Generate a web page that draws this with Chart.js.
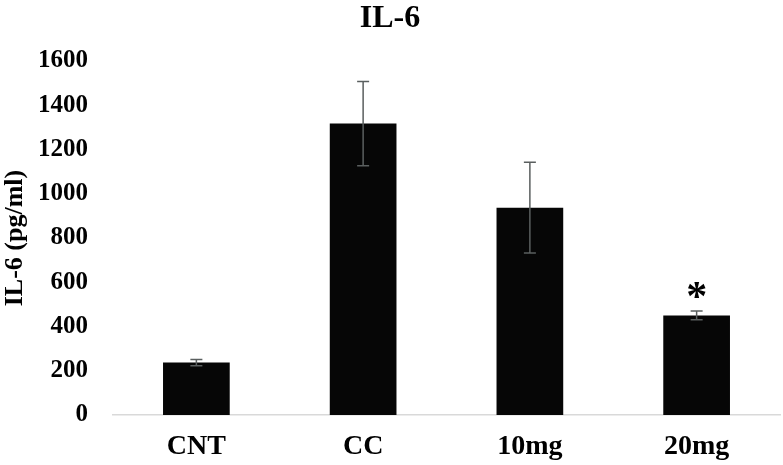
<!DOCTYPE html>
<html>
<head>
<meta charset="utf-8">
<script src="https://cdn.jsdelivr.net/npm/chart.js@4/dist/chart.umd.min.js"></script>
<style>
html,body{margin:0;padding:0;background:#fff;}
#wrap{width:783px;height:465px;position:relative;}
</style>
</head>
<body>
<div id="wrap"><canvas id="c" width="783" height="465"></canvas></div>
<script>
const categories = ["CNT", "CC", "10mg", "20mg"];
const il6Means = [237, 1317, 937, 450];
const il6Errors = [14, 190, 205, 20];
const significance = ["", "", "", "*"];
const yTicks = [0, 200, 400, 600, 800, 1000, 1200, 1400, 1600];

const serif = "'Liberation Serif', 'Times New Roman', serif";

const errorBarPlugin = {
  id: 'errorBars',
  afterDatasetsDraw(chart) {
    const ctx = chart.ctx;
    const meta = chart.getDatasetMeta(0);
    const y = chart.scales.y;
    ctx.save();
    ctx.strokeStyle = '#5a5f5f';
    ctx.lineWidth = 1.5;
    meta.data.forEach((bar, i) => {
      const x = bar.x;
      const top = y.getPixelForValue(il6Means[i] + il6Errors[i]);
      const bot = y.getPixelForValue(il6Means[i] - il6Errors[i]);
      ctx.beginPath();
      ctx.moveTo(x, top); ctx.lineTo(x, bot);
      ctx.moveTo(x - 6, top); ctx.lineTo(x + 6, top);
      ctx.moveTo(x - 6, bot); ctx.lineTo(x + 6, bot);
      ctx.stroke();
      if (significance[i]) {
        ctx.fillStyle = '#000';
        ctx.font = "bold 42px " + serif;
        ctx.textAlign = 'center';
        ctx.textBaseline = 'middle';
        ctx.fillText(significance[i], x, top - 12);
      }
    });
    ctx.restore();
  }
};

new Chart(document.getElementById('c'), {
  type: 'bar',
  data: {
    labels: categories,
    datasets: [{
      data: il6Means,
      backgroundColor: '#060606',
      borderWidth: 0,
      barPercentage: 0.4,
      categoryPercentage: 1.0
    }]
  },
  options: {
    responsive: false,
    animation: false,
    layout: { padding: { left: 0, right: 3, top: 0, bottom: 0 } },
    plugins: {
      legend: { display: false },
      tooltip: { enabled: false },
      title: {
        display: true,
        text: 'IL-6',
        color: '#000',
        font: { family: serif, size: 32, weight: 'bold' },
        padding: { top: 0, bottom: 22.6 }
      }
    },
    scales: {
      x: {
        grid: { display: false, drawTicks: false },
        border: { display: true, color: '#d9d9d9', width: 1.5 },
        ticks: { color: '#000', font: { family: serif, size: 28, weight: 'bold' }, padding: 15 },
        afterFit(scale) { scale.height = 50; }
      },
      y: {
        min: 0, max: 1600,
        afterBuildTicks(scale) { scale.ticks = yTicks.map(v => ({ value: v })); },
        grid: { display: false, drawTicks: false },
        border: { display: false },
        ticks: {
          color: '#000',
          font: { family: serif, size: 25, weight: 'bold' },
          padding: 25,
          callback: (v) => String(v)
        },
        title: {
          display: true,
          text: 'IL-6 (pg/ml)',
          color: '#000',
          font: { family: serif, size: 26, weight: 'bold' },
          padding: { top: 0, bottom: 0 }
        },
        afterFit(scale) { scale.width = 113; }
      }
    }
  },
  plugins: [errorBarPlugin]
});
</script>
</body>
</html>
